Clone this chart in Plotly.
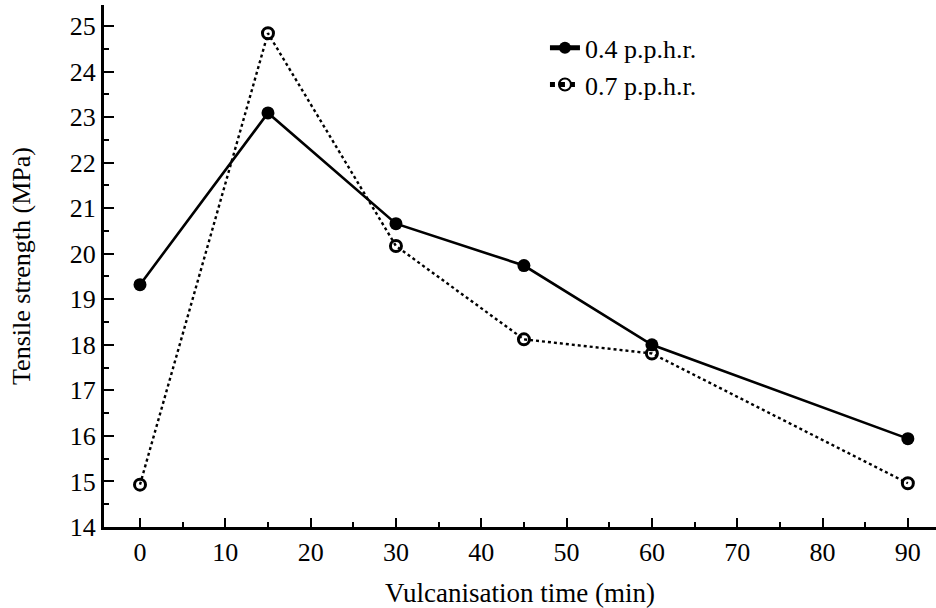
import plotly.graph_objects as go

time_min = [0, 15, 30, 45, 60, 90]
ts_04 = [19.32, 23.09, 20.66, 19.74, 18.00, 15.94]
ts_07 = [14.93, 24.84, 20.17, 18.12, 17.81, 14.96]
x_ticks = [0, 10, 20, 30, 40, 50, 60, 70, 80, 90]
y_ticks = [14, 15, 16, 17, 18, 19, 20, 21, 22, 23, 24, 25]

FONT = "Liberation Serif, Times New Roman, serif"

fig = go.Figure()
fig.add_trace(go.Scatter(
    x=time_min, y=ts_04, name="0.4 p.p.h.r.", mode="lines+markers",
    line=dict(color="black", width=2.6),
    marker=dict(symbol="circle", size=13, color="black"),
))
fig.add_trace(go.Scatter(
    x=time_min, y=ts_07, name="0.7 p.p.h.r.", mode="lines+markers",
    line=dict(color="black", width=2.4, dash="dot"),
    marker=dict(symbol="circle-open", size=11, color="black", line=dict(width=3, color="black")),
))

fig.update_layout(
    width=936, height=608,
    margin=dict(l=104, r=0, t=5, b=81),
    paper_bgcolor="white", plot_bgcolor="white",
    font=dict(family=FONT, size=26, color="black"),
    showlegend=True,
    legend=dict(x=0.53, y=0.963, xanchor="left", yanchor="top",
                bgcolor="rgba(0,0,0,0)", font=dict(size=26, family=FONT),
                tracegroupgap=0, itemsizing="constant"),
    xaxis=dict(
        range=[-4.22, 93.3], tickmode="array", tickvals=x_ticks,
        ticks="inside", ticklen=9, tickwidth=2, tickcolor="black",
        showline=True, linecolor="black", linewidth=3, mirror=False,
        showgrid=False, zeroline=False,
        minor=dict(ticks="inside", ticklen=5, tickwidth=2, tickcolor="black", dtick=5, tick0=0, showgrid=False),
        tickfont=dict(size=26, family=FONT),
        title=dict(text="Vulcanisation time (min)", font=dict(size=27, family=FONT), standoff=18),
    ),
    yaxis=dict(
        range=[14, 25.46], tickmode="array", tickvals=y_ticks,
        ticks="inside", ticklen=10, tickwidth=2, tickcolor="black",
        showline=True, linecolor="black", linewidth=3, mirror=False,
        showgrid=False, zeroline=False,
        minor=dict(ticks="inside", ticklen=5, tickwidth=2, tickcolor="black", dtick=0.5, tick0=0, showgrid=False),
        tickfont=dict(size=26, family=FONT),
        title=dict(text="Tensile strength (MPa)", font=dict(size=26, family=FONT), standoff=32),
    ),
)

fig.write_html("out.html")
